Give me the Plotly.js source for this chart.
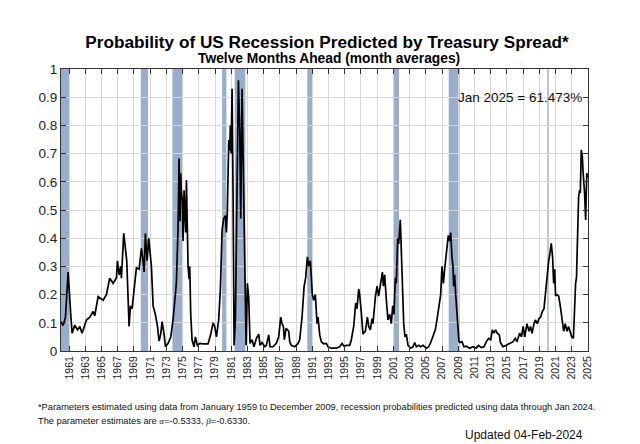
<!DOCTYPE html>
<html>
<head>
<meta charset="utf-8">
<script src="https://cdn.plot.ly/plotly-3.0.1.min.js"></script>
<style>html,body{margin:0;padding:0;background:#fff;}#chart{width:640px;height:444px;}</style>
</head>
<body>
<div id="chart"></div>
<script>
// Decimal year of each reading
var years = [
1960.0,1960.26,1960.55,1960.88,1961.2,1961.37,1961.7,1962.03,1962.32,1962.6,
1963.14,1963.55,1963.96,1964.16,1964.58,1965.19,1965.6,1966.01,1966.43,1966.84,
1966.96,1967.17,1967.37,1967.45,1967.74,1967.99,1968.11,1968.4,1968.56,1968.77,
1969.01,1969.3,1969.63,1969.92,1970.12,1970.25,1970.41,1970.62,1970.82,1971.15,
1971.36,1971.64,1971.89,1972.1,1972.3,1972.47,1972.71,1972.88,1973.21,1973.54,
1973.82,1974.03,1974.23,1974.44,1974.56,1974.69,1974.77,1974.85,1974.97,1975.06,
1975.18,1975.26,1975.39,1975.47,1975.59,1975.67,1975.8,1975.88,1976.0,1976.17,
1976.41,1976.58,1976.82,1977.11,1977.52,1978.14,1978.47,1978.76,1978.96,1979.17,
1979.45,1979.66,1979.87,1980.07,1980.28,1980.4,1980.52,1980.69,1980.81,1980.89,
1980.98,1981.1,1981.22,1981.35,1981.51,1981.72,1981.88,1982.04,1982.17,1982.33,
1982.5,1982.66,1982.83,1982.99,1983.15,1983.32,1983.56,1983.81,1984.1,1984.39,
1984.55,1984.8,1985.13,1985.33,1985.62,1985.78,1986.15,1986.56,1986.85,1987.1,
1987.26,1987.43,1987.55,1987.76,1987.92,1988.09,1988.21,1988.41,1988.83,1989.24,
1989.44,1989.73,1989.98,1990.18,1990.39,1990.55,1990.76,1990.88,1991.0,1991.17,
1991.37,1991.58,1991.7,1991.91,1992.11,1992.4,1992.73,1992.94,1993.35,1993.96,
1994.37,1994.66,1994.91,1995.2,1995.61,1995.81,1996.1,1996.35,1996.51,1996.72,
1996.84,1997.05,1997.25,1997.54,1997.79,1997.95,1998.16,1998.36,1998.48,1998.77,
1998.98,1999.18,1999.31,1999.51,1999.64,1999.76,1999.92,2000.13,2000.33,2000.54,
2000.74,2000.91,2001.07,2001.24,2001.36,2001.53,2001.65,2001.85,2001.98,2002.1,
2002.27,2002.43,2002.59,2002.8,2003.13,2003.42,2003.62,2003.83,2004.12,2004.36,
2004.65,2005.06,2005.35,2005.6,2005.88,2006.17,2006.42,2006.62,2006.83,2006.99,
2007.16,2007.32,2007.53,2007.65,2007.77,2007.94,2008.06,2008.23,2008.35,2008.43,
2008.55,2008.68,2008.84,2008.96,2009.09,2009.2,2009.46,2009.7,2010.0,2010.4,
2010.8,2011.2,2011.5,2011.84,2012.17,2012.46,2012.75,2013.0,2013.2,2013.4,
2013.6,2013.8,2014.06,2014.2,2014.5,2014.9,2015.3,2015.75,2016.03,2016.24,
2016.57,2016.8,2017.0,2017.2,2017.47,2017.72,2017.9,2018.1,2018.34,2018.5,
2018.75,2018.95,2019.16,2019.36,2019.57,2019.78,2019.98,2020.15,2020.3,2020.47,
2020.64,2020.76,2020.89,2021.0,2021.17,2021.38,2021.58,2021.79,2022.0,2022.2,
2022.4,2022.6,2022.8,2023.0,2023.2,2023.35,2023.47,2023.58,2023.7,2023.76,
2023.84,2023.97,2024.05,2024.17,2024.3,2024.4,2024.58,2024.71,2024.85,2025.0
];
// Recession probability (0-1)
var probability = [
0.104,0.09,0.12,0.28,0.13,0.063,0.092,0.075,0.087,0.063,
0.11,0.12,0.14,0.125,0.193,0.18,0.20,0.258,0.24,0.26,
0.32,0.27,0.30,0.258,0.417,0.35,0.32,0.087,0.16,0.15,
0.22,0.295,0.29,0.364,0.32,0.28,0.417,0.32,0.40,0.30,
0.16,0.13,0.09,0.035,0.06,0.104,0.06,0.015,0.027,0.05,
0.11,0.18,0.24,0.44,0.683,0.46,0.63,0.56,0.535,0.39,
0.57,0.50,0.42,0.606,0.45,0.30,0.255,0.30,0.13,0.038,
0.015,0.05,0.02,0.027,0.025,0.025,0.06,0.10,0.087,0.05,
0.11,0.22,0.43,0.47,0.48,0.42,0.50,0.748,0.71,0.80,
0.70,0.93,0.56,0.02,0.11,0.62,0.96,0.79,0.47,0.93,
0.64,0.30,0.02,0.24,0.19,0.027,0.04,0.015,0.045,0.06,
0.02,0.03,0.015,0.02,0.057,0.015,0.015,0.027,0.05,0.12,
0.097,0.087,0.04,0.08,0.075,0.07,0.033,0.02,0.015,0.027,
0.04,0.12,0.228,0.26,0.334,0.30,0.32,0.25,0.20,0.18,
0.20,0.097,0.12,0.057,0.033,0.025,0.027,0.015,0.01,0.01,
0.015,0.027,0.017,0.02,0.02,0.04,0.087,0.17,0.15,0.22,
0.20,0.133,0.06,0.07,0.12,0.087,0.075,0.115,0.097,0.19,
0.23,0.195,0.22,0.255,0.28,0.23,0.27,0.18,0.11,0.13,
0.097,0.16,0.13,0.26,0.24,0.40,0.38,0.465,0.37,0.23,
0.097,0.05,0.06,0.02,0.01,0.015,0.03,0.015,0.02,0.015,
0.02,0.01,0.015,0.03,0.05,0.075,0.12,0.16,0.20,0.30,
0.24,0.29,0.345,0.37,0.41,0.39,0.42,0.33,0.30,0.23,
0.27,0.20,0.13,0.087,0.033,0.03,0.033,0.015,0.017,0.01,
0.015,0.01,0.02,0.012,0.015,0.033,0.045,0.04,0.075,0.063,
0.075,0.063,0.057,0.03,0.015,0.02,0.027,0.033,0.045,0.033,
0.063,0.05,0.087,0.05,0.097,0.07,0.087,0.063,0.097,0.11,
0.097,0.115,0.12,0.14,0.15,0.22,0.29,0.32,0.345,0.382,
0.33,0.24,0.29,0.195,0.2,0.195,0.16,0.12,0.07,0.097,
0.07,0.087,0.063,0.05,0.045,0.16,0.24,0.26,0.38,0.45,
0.547,0.57,0.56,0.713,0.69,0.63,0.56,0.465,0.63,0.615
];
// Recession periods (shaded)
var recessionStart = [1960.0, 1969.84, 1973.74, 1979.87, 1981.43, 1990.38, 2001.04, 2007.82, 2019.98];
var recessionEnd   = [1961.0, 1970.74, 1975.06, 1980.40, 1982.74, 1991.00, 2001.69, 2009.17, 2020.15];
// Axis ticks
var xTickVals = [1961,1963,1965,1967,1969,1971,1973,1975,1977,1979,1981,1983,1985,1987,1989,1991,1993,1995,1997,1999,2001,2003,2005,2007,2009,2011,2013,2015,2017,2019,2021,2023,2025];
var xTickText = ["1961","1963","1965","1967","1969","1971","1973","1975","1977","1979","1981","1983","1985","1987","1989","1991","1993","1995","1997","1999","2001","2003","2005","2007","2009","2011","2013","2015","2017","2019","2021","2023","2025"];
var yTickVals = [0,0.1,0.2,0.3,0.4,0.5,0.6,0.7,0.8,0.9,1];
var yTickText = ["0","0.1","0.2","0.3","0.4","0.5","0.6","0.7","0.8","0.9","1"];
var latestLabel = "Jan 2025 = 61.473%";

var shapes = recessionStart.map(function (s, i) {
  return {type: 'rect', xref: 'x', yref: 'paper', x0: s, x1: recessionEnd[i], y0: 0, y1: 1,
          fillcolor: '#98aeca', line: {width: 0}, layer: 'between'};
});

var trace = {
  x: years, y: probability, type: 'scatter', mode: 'lines',
  line: {color: '#000000', width: 1.7}, hoverinfo: 'skip'
};

var font = 'Liberation Sans, Arial, sans-serif';
var layout = {
  width: 640, height: 444,
  margin: {l: 61, r: 52, t: 69, b: 93},
  paper_bgcolor: '#ffffff', plot_bgcolor: '#ffffff',
  showlegend: false,
  font: {family: font, color: '#1a1a1a'},
  title: {
    text: '<b>Probability of US Recession Predicted by Treasury Spread*</b>',
    font: {family: font, size: 17.2, color: '#000'},
    x: 327 / 640, xref: 'container', xanchor: 'center',
    y: 1 - 42/444, yref: 'container', yanchor: 'middle'
  },
  xaxis: {
    range: [1960, 2025], tickmode: 'array', tickvals: xTickVals, ticktext: xTickText,
    tickangle: -90, tickfont: {size: 10.5, color: '#222'},
    ticks: 'inside', ticklen: 5, tickcolor: '#333', mirror: 'ticks',
    showline: true, linecolor: '#333', linewidth: 1,
    showgrid: true, gridcolor: '#d8d8d8', gridwidth: 1, zeroline: false, fixedrange: true
  },
  yaxis: {
    range: [0, 1], tickmode: 'array', tickvals: yTickVals, ticktext: yTickText,
    tickfont: {size: 13.5, color: '#222'},
    ticks: 'inside', ticklen: 5, tickcolor: '#333', mirror: 'ticks',
    showline: true, linecolor: '#333', linewidth: 1,
    showgrid: true, gridcolor: '#d8d8d8', gridwidth: 1, zeroline: false, fixedrange: true
  },
  shapes: shapes,
  annotations: [
    {text: '<b>Twelve Months Ahead (month averages)</b>', xref: 'paper', yref: 'paper',
     x: (329 - 61) / 527, y: (351 - 58) / 282, xanchor: 'center', yanchor: 'middle',
     showarrow: false, font: {family: font, size: 13.8, color: '#000'}},
    {text: latestLabel, xref: 'paper', yref: 'paper',
     x: (584 - 61) / 527, y: (351 - 97) / 282, xanchor: 'right', yanchor: 'middle',
     showarrow: false, font: {family: font, size: 13.5, color: '#111'}},
    {text: '*Parameters estimated using data from January 1959 to December 2009, recession probabilities predicted using data through Jan 2024.',
     xref: 'paper', yref: 'paper', x: (36 - 61) / 527, y: (351 - 407) / 282,
     xanchor: 'left', yanchor: 'middle', showarrow: false, font: {family: font, size: 9.25, color: '#111'}},
    {text: 'The parameter estimates are <span style="font-family:Liberation Serif"><i>α</i></span>=-0.5333, <span style="font-family:Liberation Serif"><i>β</i></span>=-0.6330.',
     xref: 'paper', yref: 'paper', x: (36 - 61) / 527, y: (351 - 421) / 282,
     xanchor: 'left', yanchor: 'middle', showarrow: false, font: {family: font, size: 9.25, color: '#111'}},
    {text: 'Updated 04-Feb-2024', xref: 'paper', yref: 'paper',
     x: (585 - 61) / 527, y: (351 - 435) / 282, xanchor: 'right', yanchor: 'middle',
     showarrow: false, font: {family: font, size: 12, color: '#111'}}
  ]
};

Plotly.newPlot('chart', [trace], layout, {displayModeBar: false, staticPlot: true});
</script>
</body>
</html>
